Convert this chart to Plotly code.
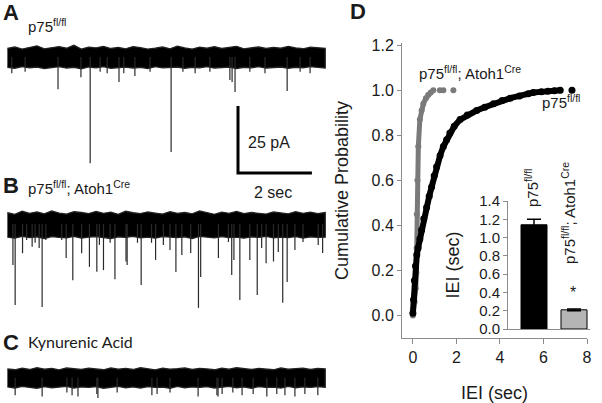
import plotly.graph_objects as go

# ---------- traces A-C (time in s, current in pA) ----------
ENV_T = [0.0, 0.2, 0.4, 0.6, 0.8, 1.0, 1.2, 1.4, 1.6, 1.8,
         2.0, 2.2, 2.4, 2.6, 2.8, 3.0, 3.2, 3.4, 3.6, 3.8,
         4.0, 4.2, 4.4, 4.6, 4.8, 5.0, 5.2, 5.4, 5.6, 5.8,
         6.0, 6.2, 6.4, 6.6, 6.8, 7.0, 7.2, 7.4, 7.6, 7.8,
         8.0, 8.2, 8.4, 8.6]

# noise envelope above / below baseline (pA)
A_top = [3.2, 3.8, 3.0, 3.5, 4.2, 3.1, 3.6, 3.9, 3.3, 4.4,
         3.0, 3.7, 3.4, 4.0, 3.2, 3.6, 3.1, 3.9, 3.5, 3.0,
         3.3, 3.8, 3.1, 4.1, 3.4, 3.0, 3.7, 3.3, 3.9, 3.2,
         3.6, 4.0, 3.1, 3.5, 3.8, 3.2, 3.6, 3.3, 4.0, 3.4,
         3.1, 3.7, 3.5, 3.3]
A_bot = [3.8, 4.2, 3.6, 4.0, 3.7, 4.3, 3.9, 3.6, 4.1, 3.8,
         4.4, 3.7, 4.0, 3.6, 4.2, 3.9, 3.7, 4.1, 3.8, 4.3,
         3.6, 4.0, 3.9, 3.7, 4.2, 3.8, 4.0, 3.6, 4.1, 3.9,
         3.7, 4.3, 3.8, 4.0, 3.6, 4.1, 3.9, 3.7, 4.2, 3.8,
         4.0, 3.6, 3.9, 4.1]
B_top = [4.2, 3.6, 4.8, 4.0, 4.5, 3.8, 4.9, 4.1, 3.7, 4.6,
         4.3, 3.9, 4.7, 4.0, 4.4, 3.6, 4.8, 4.2, 3.9, 4.5,
         4.1, 3.7, 4.6, 4.0, 4.3, 3.8, 4.9, 4.2, 3.6, 4.4,
         4.0, 4.7, 3.9, 4.3, 4.1, 3.7, 4.5, 4.2, 3.8, 4.6,
         4.0, 4.4, 3.9, 4.3]
B_bot = [4.9, 5.3, 4.6, 5.1, 4.8, 5.4, 4.7, 5.0, 5.2, 4.6,
         5.3, 4.9, 4.7, 5.1, 5.4, 4.8, 5.0, 4.6, 5.2, 4.9,
         5.3, 4.7, 5.0, 5.1, 4.8, 5.4, 4.6, 5.0, 5.2, 4.7,
         5.1, 4.9, 5.3, 4.8, 5.0, 4.6, 5.2, 4.9, 5.1, 4.7,
         5.3, 4.8, 5.0, 4.9]
C_top = [3.3, 3.0, 3.6, 3.1, 3.8, 3.2, 3.5, 3.0, 3.7, 3.3,
         3.1, 3.6, 3.4, 3.0, 3.7, 3.2, 3.5, 3.1, 3.8, 3.3,
         3.0, 3.6, 3.2, 3.4, 3.7, 3.1, 3.5, 3.3, 3.0, 3.6,
         3.2, 3.8, 3.4, 3.1, 3.5, 3.3, 3.0, 3.7, 3.2, 3.4,
         3.6, 3.1, 3.5, 3.3]
C_bot = [3.4, 3.8, 3.2, 3.6, 3.9, 3.3, 3.7, 3.5, 3.2, 3.8,
         3.4, 3.6, 3.3, 3.9, 3.5, 3.2, 3.7, 3.4, 3.8, 3.3,
         3.6, 3.5, 3.9, 3.2, 3.7, 3.4, 3.6, 3.3, 3.8, 3.5,
         3.2, 3.7, 3.4, 3.9, 3.3, 3.6, 3.5, 3.8, 3.2, 3.7,
         3.4, 3.6, 3.3, 3.5]

# synaptic events: time (s) and amplitude (pA, downward)
A_ev_t = [0.12, 0.48, 1.37, 1.99, 2.24, 2.51, 2.70, 3.02, 3.15, 3.45, 3.86, 4.43,
          4.75, 5.08, 5.48, 6.02, 6.08, 6.16, 6.56, 6.97, 7.57, 7.92, 8.19]
A_ev_a = [6.0, 5.5, 12.0, 7.5, 39.6, 5.5, 6.0, 9.3, 6.0, 7.1, 5.5, 35.4,
          5.5, 6.0, 5.5, 8.6, 9.3, 13.0, 5.5, 6.0, 12.7, 5.5, 6.0]
B_ev_t = [0.15, 0.21, 0.41, 0.52, 0.67, 0.75, 0.86, 0.94, 1.04, 1.47, 1.59, 1.77,
          2.01, 2.22, 2.42, 2.49, 2.60, 2.78, 2.91, 3.21, 3.24, 3.52, 3.62, 3.90,
          4.01, 4.22, 4.40, 4.56, 4.72, 4.96, 5.17, 5.23, 5.71, 5.98, 6.07, 6.13,
          6.29, 6.56, 6.76, 6.88, 7.00, 7.20, 7.33, 7.45, 7.57, 7.78, 8.00, 8.41, 8.53]
B_ev_a = [15.3, 30.2, 10.9, 6.0, 8.5, 7.0, 9.0, 31.0, 6.0, 6.0, 12.7, 21.0,
          10.9, 16.0, 17.8, 7.8, 17.2, 7.0, 20.6, 14.0, 15.3, 7.0, 22.8, 7.0,
          13.4, 7.8, 9.7, 17.9, 11.6, 10.8, 31.3, 19.8, 12.7, 6.7, 19.0, 13.4,
          28.4, 13.4, 26.5, 9.0, 14.6, 14.0, 10.4, 29.4, 21.6, 9.7, 6.7, 7.8, 10.8]
C_ev_t = [0.21, 0.94, 1.61, 1.75, 1.91, 2.42, 2.45, 2.97, 3.91, 4.05, 4.40, 5.16,
          5.67, 5.70, 5.81, 6.10, 6.35, 6.65, 7.02, 7.29, 7.51, 7.78, 8.05, 8.40]
C_ev_a = [6.5, 7.0, 5.5, 6.5, 7.0, 6.0, 7.5, 5.5, 6.5, 6.0, 5.5, 7.0,
          6.5, 7.0, 6.0, 5.5, 6.5, 6.0, 7.0, 6.0, 6.5, 7.0, 6.0, 6.5]

SCALE_PA = 25
SCALE_S = 2

# ---------- panel D: cumulative IEI ----------
ctrl_iei = [0.0, 0.03, 0.07, 0.12, 0.18, 0.24, 0.32, 0.40, 0.50, 0.63, 0.75, 0.86,
            0.98, 1.09, 1.25, 1.40, 1.55, 1.70, 1.90, 2.17, 2.50, 2.93, 3.30, 3.70,
            4.10, 4.47, 4.90, 5.30, 5.53, 5.90, 6.20, 6.50, 6.77, 7.31]
ctrl_cum = [0.01, 0.07, 0.155, 0.22, 0.27, 0.30, 0.34, 0.38, 0.43, 0.48, 0.53, 0.57,
            0.62, 0.66, 0.71, 0.75, 0.78, 0.81, 0.84, 0.87, 0.89, 0.91, 0.925, 0.94,
            0.955, 0.965, 0.975, 0.985, 0.99, 0.993, 0.996, 0.998, 1.0, 1.0]
cko_iei = [0.0, 0.08, 0.13, 0.16, 0.17, 0.18, 0.21, 0.25, 0.32, 0.40, 0.48, 0.60,
           0.71, 0.82, 0.94, 1.24, 1.40, 1.86]
cko_cum = [0.0, 0.06, 0.12, 0.19, 0.30, 0.45, 0.60, 0.75, 0.87, 0.91, 0.94, 0.965,
           0.98, 0.99, 1.0, 1.0, 1.0, 1.0]

# inset: mean IEI
groups = ["p75<sup>fl/fl</sup>", "p75<sup>fl/fl</sup>; Atoh1<sup>Cre</sup>"]
mean_iei = [1.14, 0.21]
sem_iei = [0.06, 0.01]

W, H = 602, 403
FONT = "Liberation Sans, Arial, sans-serif"
INK = "#1a1a1a"
AXC = "#8c8c8c"


def px(x, y):
    return x / W, 1 - y / H


fig = go.Figure()

# baselines of the three recordings (pA offsets on the shared trace axis)
rows = [(A_top, A_bot, A_ev_t, A_ev_a, -21.3),
        (B_top, B_bot, B_ev_t, B_ev_a, -83.6),
        (C_top, C_bot, C_ev_t, C_ev_a, -141.0)]
for top, bot, ev_t, ev_a, base in rows:
    xs = ENV_T + ENV_T[::-1]
    ys = [base + v for v in top] + [base - v for v in bot[::-1]]
    fig.add_trace(go.Scatter(x=xs, y=ys, fill="toself", fillcolor="black",
                             line=dict(color="#222222", width=1.3), mode="lines",
                             xaxis="x", yaxis="y", hoverinfo="skip"))
    ex, ey = [], []
    for t, a in zip(ev_t, ev_a):
        ex += [t, t, None]
        ey += [base, base - a, None]
    fig.add_trace(go.Scatter(x=ex, y=ey, mode="lines",
                             line=dict(color="#2a2a2a", width=1.2),
                             xaxis="x", yaxis="y", hoverinfo="skip"))

# scale bar
t0, y0 = 6.24, -64.55
fig.add_trace(go.Scatter(x=[t0, t0, t0 + SCALE_S], y=[y0 + SCALE_PA, y0, y0],
                         mode="lines", line=dict(color="black", width=3),
                         xaxis="x", yaxis="y"))

# cumulative curves
fig.add_trace(go.Scatter(x=cko_iei[:15], y=cko_cum[:15], mode="lines",
                         line=dict(color="#7a7a7a", width=5),
                         xaxis="x2", yaxis="y2"))
fig.add_trace(go.Scatter(x=cko_iei, y=cko_cum, mode="markers",
                         marker=dict(color="#7a7a7a", size=6),
                         xaxis="x2", yaxis="y2"))
fig.add_trace(go.Scatter(x=ctrl_iei[:-1], y=ctrl_cum[:-1], mode="lines",
                         line=dict(color="black", width=6),
                         xaxis="x2", yaxis="y2"))
fig.add_trace(go.Scatter(x=ctrl_iei, y=ctrl_cum, mode="markers",
                         marker=dict(color="black", size=7),
                         xaxis="x2", yaxis="y2"))

# inset bars
fig.add_trace(go.Bar(x=[0, 1], y=mean_iei, width=0.65,
                     marker=dict(color=["black", "#b5b5b5"],
                                 line=dict(color="black", width=1)),
                     error_y=dict(type="data", array=sem_iei, color="black",
                                  thickness=1.5, width=7),
                     xaxis="x3", yaxis="y3"))

tickfont = dict(family=FONT, size=16, color=INK)
fig.update_layout(
    width=W, height=H,
    margin=dict(l=0, r=0, t=0, b=0, pad=0, autoexpand=False),
    paper_bgcolor="white", plot_bgcolor="rgba(0,0,0,0)", showlegend=False,
    xaxis=dict(domain=[0, 340 / W], range=[-0.2, 9.0], visible=False, anchor="y",
               automargin=False),
    yaxis=dict(domain=[0, 1], range=[-150.4, 0], visible=False, anchor="x",
               automargin=False),
    xaxis2=dict(domain=[402 / W, 587 / W], range=[-0.5, 8.0], anchor="y2",
                tickvals=[0, 2, 4, 6, 8], ticks="outside", ticklen=5,
                tickcolor=AXC, showline=True, linecolor=AXC, showgrid=False,
                zeroline=False, tickfont=tickfont, automargin=False,
                title=dict(text="IEI (sec)", font=dict(family=FONT, size=18, color=INK),
                           standoff=22)),
    yaxis2=dict(domain=[1 - 338 / H, 1 - 43 / H], range=[-0.1, 1.21], anchor="x2",
                tickvals=[0, 0.2, 0.4, 0.6, 0.8, 1.0, 1.2], tickformat=".1f",
                ticks="outside", ticklen=4, tickcolor=AXC, showline=True,
                linecolor=AXC, showgrid=False, zeroline=False, tickfont=tickfont,
                automargin=False,
                title=dict(text="Cumulative Probability",
                           font=dict(family=FONT, size=18, color=INK), standoff=18)),
    xaxis3=dict(domain=[508 / W, 590 / W], range=[-0.65, 1.4], anchor="y3",
                showline=True, linecolor=AXC, showticklabels=False, ticks="",
                showgrid=False, zeroline=False, automargin=False),
    yaxis3=dict(domain=[1 - 329 / H, 1 - 201 / H], range=[0, 1.4], anchor="x3",
                dtick=0.2, tickformat=".1f", ticks="outside", ticklen=4,
                tickcolor=AXC, showline=True, linecolor=AXC, showgrid=False,
                zeroline=False, tickfont=dict(family=FONT, size=15, color=INK),
                automargin=False,
                title=dict(text="IEI (sec)", font=dict(family=FONT, size=18, color=INK),
                           standoff=14)),
)


def note(text, x, y, size=15, bold=False, xanchor="left", angle=0, family=FONT):
    ax, ay = px(x, y)
    fig.add_annotation(text=f"<b>{text}</b>" if bold else text, x=ax, y=ay,
                       xref="paper", yref="paper", showarrow=False,
                       xanchor=xanchor, yanchor="middle", textangle=angle,
                       font=dict(family=family, size=size, color=INK))


note("A", 1, 13, size=22, bold=True)
note("p75<sup>fl/fl</sup>", 26, 25)
note("B", 1, 185, size=22, bold=True)
note("p75<sup>fl/fl</sup>; Atoh1<sup>Cre</sup>", 26, 188)
note("C", 1, 342, size=22, bold=True)
note("Kynurenic Acid", 26, 341, size=16, family="Lato, Open Sans, sans-serif")
note("25 pA", 246, 142, size=16)
note("2 sec", 252, 192, size=16)
note("D", 348, 11, size=22, bold=True)
note("p75<sup>fl/fl</sup>; Atoh1<sup>Cre</sup>", 417, 72)
note("p75<sup>fl/fl</sup>", 540, 101)
note(groups[0], 532, 188, xanchor="center", angle=-90)
note(groups[1], 568, 213, xanchor="center", angle=-90)
note("*", 573, 292, size=16, xanchor="center")

# page body has a default 8px margin; drop it so the figure sits at (0, 0)
fig.write_html("out.html", config={"displayModeBar": False},
               post_script="document.body.style.margin='0';")
